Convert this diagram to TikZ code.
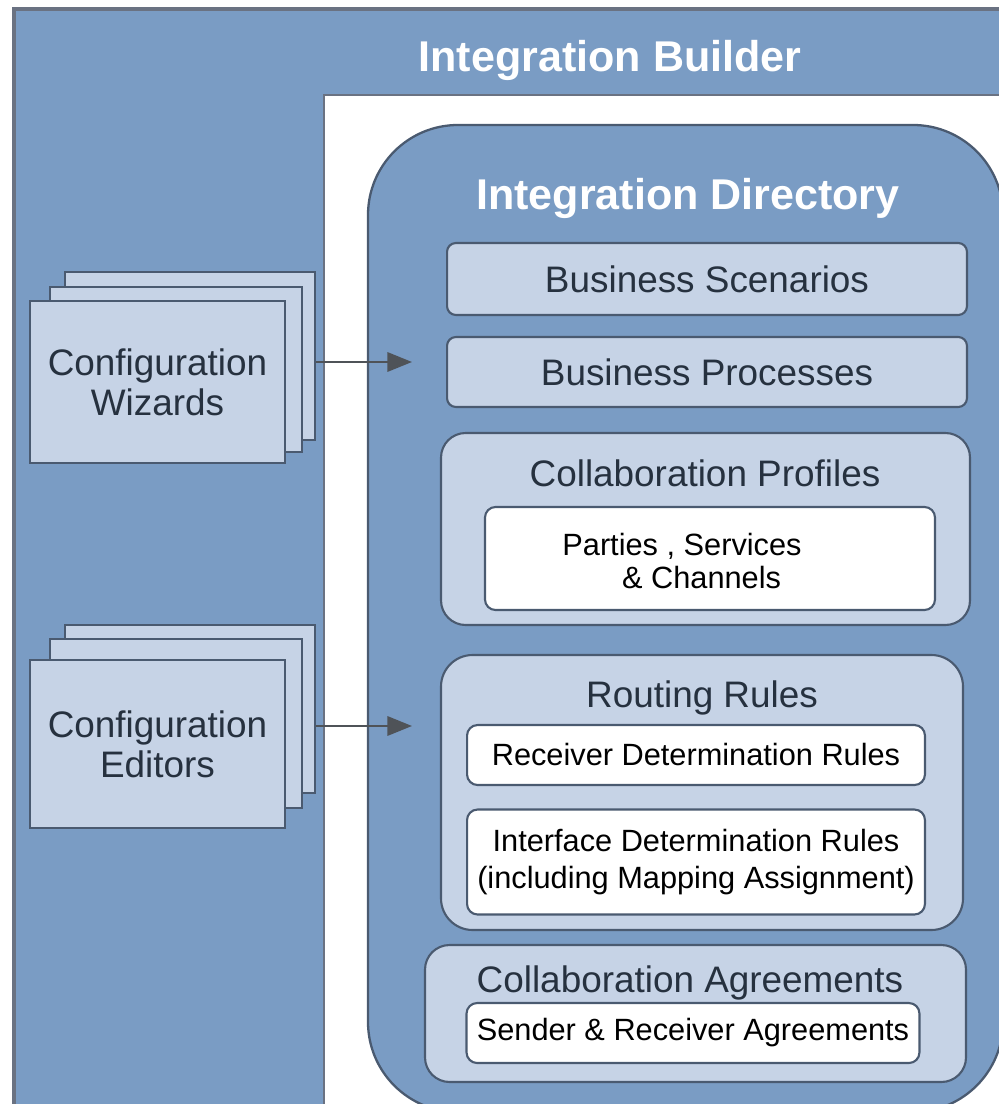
\documentclass[tikz,border=0pt]{standalone}
\usepackage{fontspec}
\setmainfont{Liberation Sans}
\usepackage{tikz}
\usetikzlibrary{arrows.meta, positioning}
\usepackage{xcolor}
\definecolor{frameBlue}{HTML}{7A9CC4}
\definecolor{frameGray}{HTML}{6A7282}
\definecolor{paleBlue}{HTML}{C6D3E6}
\definecolor{edgeDark}{HTML}{4A5A70}
\definecolor{inkDark}{HTML}{26313F}
\definecolor{arrowGray}{HTML}{4F5358}
\tikzset{
  bigtitle/.style={text=white, font=\fontsize{24.5pt}{28pt}\selectfont\bfseries},
  panel/.style={draw=edgeDark, line width=1.2pt, fill=paleBlue, rounded corners=5pt,
                text=inkDark, font=\fontsize{21pt}{22.7pt}\selectfont, align=center},
  sheet/.style={draw=edgeDark, line width=1.4pt, fill=paleBlue, text=inkDark,
                font=\fontsize{21pt}{22.7pt}\selectfont, align=center},
  group/.style={draw=edgeDark, line width=1.2pt, fill=paleBlue, rounded corners=14pt},
  grouptitle/.style={text=inkDark, font=\fontsize{21pt}{24pt}\selectfont},
  leaf/.style={draw=edgeDark, line width=1.2pt, fill=white, rounded corners=6pt,
               text=black, font=\fontsize{17.5pt}{21pt}\selectfont, align=center},
  arrow/.style={-{Triangle[length=14pt, width=11pt]}, line width=1.3pt, color=arrowGray},
}
\begin{document}
\begin{tikzpicture}[x=0.02cm, y=-0.02cm]
\useasboundingbox (0,0) rectangle (999,1104);
% outer builder frame
\fill[white] (0,0) rectangle (999,1104);
\draw[frameGray, fill=frameBlue, line width=1.8pt] (14,9) rectangle (1040,1140);
\node[bigtitle] (builder) at (610,60) {Integration Builder};
\draw[frameGray, fill=white, line width=1.4pt] (324,95) rectangle (1040,1140);

% integration directory
\draw[edgeDark, fill=frameBlue, line width=1.3pt, rounded corners=1.8cm] (368,125) rectangle (1003,1112);
\node[bigtitle] (directory) at (688,198) {Integration Directory};

\node[panel, minimum width=10.4cm, minimum height=1.44cm] (scenarios) at (707,279) {Business Scenarios};
\node[panel, minimum width=10.4cm, minimum height=1.4cm] (processes) at (707,372) {Business Processes};

% collaboration profiles
\draw[group] (441,433) rectangle (970,625);
\node[grouptitle] (profiles) at (705,473) {Collaboration Profiles};
\draw[leaf] (485,507) rectangle (935,610);
\node[text=black, font=\fontsize{17.5pt}{18.7pt}\selectfont, align=left] (parties) at (682,561)
  {Parties , Services\\\hspace*{34pt}\& Channels};

% routing rules
\draw[group, rounded corners=18pt] (441,655) rectangle (963,930);
\node[grouptitle] (routing) at (702,698) {Routing Rules};
\node[leaf, minimum width=9.16cm, minimum height=1.2cm] (receiver) at (696,755) {Receiver Determination Rules};
\node[leaf, minimum width=9.16cm, minimum height=2.1cm] (interface) at (696,862)
  {Interface Determination Rules\\(including Mapping Assignment)};

% collaboration agreements
\draw[group] (425,945) rectangle (966,1082);
\node[grouptitle] (agreements) at (690,983) {Collaboration Agreements};
\node[leaf, minimum width=9.06cm, minimum height=1.2cm] (sender) at (693,1033) {Sender \& Receiver Agreements};

% configuration tools
\node[sheet, minimum width=5cm, minimum height=3.36cm] (wizC) at (190,356) {};
\node[sheet, minimum width=5.04cm, minimum height=3.3cm] (wizB) at (176,369.5) {};
\node[sheet, minimum width=5.1cm, minimum height=3.24cm] (wizA) at (157.5,382) {Configuration\\Wizards};

\node[sheet, minimum width=5cm, minimum height=3.36cm] (edC) at (190,709) {};
\node[sheet, minimum width=5.04cm, minimum height=3.38cm] (edB) at (176,723.5) {};
\node[sheet, minimum width=5.1cm, minimum height=3.36cm] (edA) at (157.5,744) {Configuration\\Editors};

\coordinate (wizTip) at (412,362);
\coordinate (edTip) at (412,726);
\draw[arrow] (wizTip -| wizC.east) -- (wizTip);
\draw[arrow] (edTip -| edC.east) -- (edTip);
\end{tikzpicture}
\end{document}
